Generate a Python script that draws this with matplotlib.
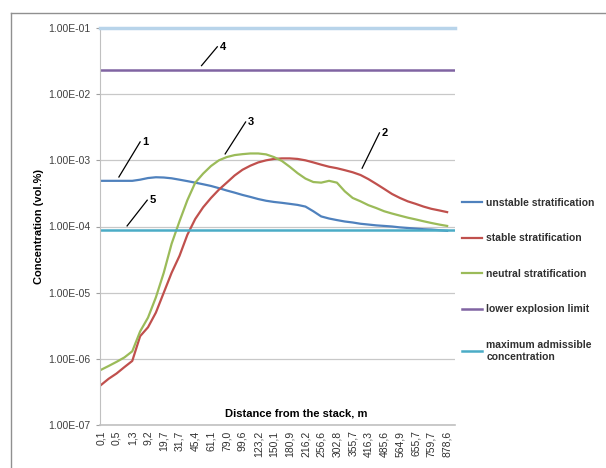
import numpy as np
import matplotlib
matplotlib.use("Agg")
import matplotlib.pyplot as plt
from matplotlib.lines import Line2D

plt.rcParams['font.family'] = ['Liberation Sans', 'DejaVu Sans']

# distance categories (x axis labels)
x_labels = ['0,1', '0,5', '1,3', '9,2', '19,7', '31,7', '45,4', '61,1', '79,0', '99,6',
            '123,2', '150,1', '180,9', '216,2', '256,6', '302,8', '355,7', '416,3',
            '485,6', '564,9', '655,7', '759,7', '878,6']

# series sampled every half category
pos = np.arange(0, 22.5, 0.5)

unstable = [4.9e-4, 4.9e-4, 4.9e-4, 4.9e-4, 4.9e-4, 5.1e-4, 5.4e-4, 5.55e-4, 5.5e-4,
            5.35e-4, 5.1e-4, 4.85e-4, 4.6e-4, 4.35e-4, 4.1e-4, 3.8e-4, 3.5e-4, 3.25e-4,
            3.0e-4, 2.8e-4, 2.6e-4, 2.45e-4, 2.35e-4, 2.28e-4, 2.2e-4, 2.12e-4, 2.0e-4,
            1.7e-4, 1.42e-4, 1.32e-4, 1.25e-4, 1.19e-4, 1.15e-4, 1.1e-4, 1.07e-4, 1.04e-4,
            1.02e-4, 1.0e-4, 9.7e-5, 9.5e-5, 9.3e-5, 9.1e-5, 9.0e-5, 8.8e-5, 8.6e-5]

stable = [4.0e-7, 5.0e-7, 6.0e-7, 7.5e-7, 9.3e-7, 2.2e-6, 3.0e-6, 5.0e-6, 1.0e-5,
          2.0e-5, 3.6e-5, 7.5e-5, 1.3e-4, 1.95e-4, 2.7e-4, 3.6e-4, 4.6e-4, 5.9e-4,
          7.2e-4, 8.3e-4, 9.3e-4, 1.0e-3, 1.05e-3, 1.07e-3, 1.07e-3, 1.05e-3, 1.0e-3,
          9.3e-4, 8.6e-4, 8.0e-4, 7.6e-4, 7.1e-4, 6.6e-4, 6.0e-4, 5.2e-4, 4.4e-4,
          3.7e-4, 3.1e-4, 2.7e-4, 2.4e-4, 2.2e-4, 2.0e-4, 1.85e-4, 1.75e-4, 1.65e-4]

neutral = [6.8e-7, 7.8e-7, 9.0e-7, 1.05e-6, 1.3e-6, 2.6e-6, 4.2e-6, 8.5e-6, 2.0e-5,
           5.5e-5, 1.2e-4, 2.5e-4, 4.6e-4, 6.3e-4, 8.2e-4, 1.0e-3, 1.12e-3, 1.2e-3,
           1.24e-3, 1.27e-3, 1.27e-3, 1.23e-3, 1.12e-3, 9.8e-4, 8.0e-4, 6.4e-4, 5.3e-4,
           4.7e-4, 4.6e-4, 4.9e-4, 4.6e-4, 3.4e-4, 2.7e-4, 2.4e-4, 2.1e-4, 1.9e-4,
           1.7e-4, 1.57e-4, 1.46e-4, 1.36e-4, 1.28e-4, 1.2e-4, 1.13e-4, 1.07e-4, 1.02e-4]

lower_explosion_limit = 2.3e-2
max_admissible = 8.8e-5

y_ticks = [1e-7, 1e-6, 1e-5, 1e-4, 1e-3, 1e-2, 1e-1]
y_tick_labels = ['1.00E-07', '1.00E-06', '1.00E-05', '1.00E-04', '1.00E-03',
                 '1.00E-02', '1.00E-01']

# curve numbers: (label, leader start x, y, leader end x, y)
callouts = [('1', 1.15, 5.6e-4, 2.5, 1.9e-3),
            ('2', 16.6, 7.6e-4, 17.7, 2.6e-3),
            ('3', 7.9, 1.25e-3, 9.2, 3.8e-3),
            ('4', 6.4, 2.7e-2, 7.4, 5.2e-2),
            ('5', 1.67, 1.02e-4, 2.95, 2.5e-4)]

c_blue = '#4F81BD'
c_red = '#C0504D'
c_green = '#9BBB59'
c_purple = '#8064A2'
c_cyan = '#4BACC6'

fig = plt.figure(figsize=(6.06, 4.68), dpi=100)
ax = fig.add_axes([100/606, 1-425/468, 355/606, 397/468])

ax.plot(pos, unstable, color=c_blue, lw=1.6, label='unstable stratification')
ax.plot(pos, stable, color=c_red, lw=1.6, label='stable stratification')
ax.plot(pos, neutral, color=c_green, lw=1.6, label='neutral stratification')
ax.axhline(lower_explosion_limit, color=c_purple, lw=1.8, label='lower explosion limit')
ax.axhline(max_admissible, color=c_cyan, lw=1.8,
           label='maximum admissible\nconcentration')

ax.set_yscale('log')
ax.set_ylim(1e-7, 1e-1)
ax.set_xlim(-0.05, 22.5)
ax.set_yticks(y_ticks)
ax.set_yticklabels(y_tick_labels)
ax.yaxis.set_minor_locator(matplotlib.ticker.NullLocator())
ax.set_xticks(range(len(x_labels)))
ax.set_xticklabels(x_labels, rotation=90)
ax.tick_params(axis='y', length=3, color='#a0a0a0', labelsize=7.5, labelcolor='#404040', pad=4)
ax.tick_params(axis='x', length=0, labelsize=7.5, labelcolor='#303030', pad=4)
ax.grid(axis='y', color='#c8c8c8', lw=0.9)
ax.set_axisbelow(True)

ax.spines['right'].set_visible(False)
ax.spines['top'].set_color('#b8d4ea')
ax.spines['top'].set_linewidth(2.5)
ax.spines['left'].set_color('#c0c0c0')
ax.spines['bottom'].set_color('#c0c0c0')
ax.spines['bottom'].set_linewidth(1.2)

ax.set_ylabel('Concentration (vol.%)', fontsize=8, fontweight='bold', labelpad=3)
ax.text(0.552, 0.028, 'Distance from the stack, m', transform=ax.transAxes,
        ha='center', va='center', fontsize=8, fontweight='bold')

for lab, x0, y0, x1, y1 in callouts:
    ax.plot([x0, x1], [y0, y1], color='black', lw=0.9)
    ax.text(x1 + 0.15, y1, lab, fontsize=8, fontweight='bold', ha='left', va='center')

leg = ax.legend(loc='center left', bbox_to_anchor=(1.0, 0.366), frameon=False,
                fontsize=7.5, handlelength=1.9, handletextpad=0.4,
                labelspacing=2.45, borderaxespad=0.3)
for t in leg.get_texts():
    t.set_fontweight('bold')
    t.set_color('#303030')

# outer chart border
fig.add_artist(Line2D([11/606, 1.0], [1-13/468, 1-13/468], color='#909090', lw=1.0))
fig.add_artist(Line2D([11/606, 11/606], [0.0, 1-13/468], color='#909090', lw=1.0))

fig.savefig('out.png', dpi=100)
